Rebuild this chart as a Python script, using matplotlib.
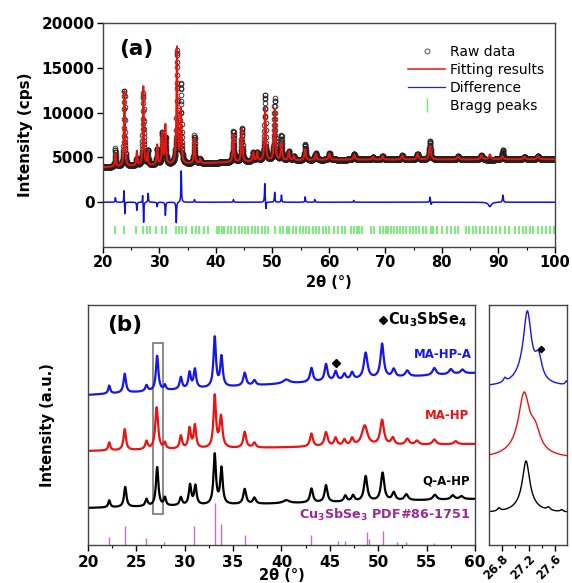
import numpy as np
import matplotlib.pyplot as plt
from matplotlib.lines import Line2D

plt.rcParams['font.family'] = ['DejaVu Sans']
plt.rcParams['axes.linewidth'] = 1.0
plt.rcParams['axes.edgecolor'] = '#444444'

# ---- (a) Rietveld refinement ----
bg_a_x = [20, 30, 40, 50, 60, 100]
bg_a_y = [3900, 4150, 4400, 4600, 4750, 4800]

fit_pos = [22.2, 23.8, 26.0, 27.15, 27.9, 29.6, 30.5, 31.05, 33.1, 33.8, 36.2, 37.2,
           43.1, 44.6, 46.6, 47.3, 48.7, 50.4, 51.6, 52.9, 53.8, 55.8, 57.7, 60.1,
           64.5, 67.8, 69.5, 73.0, 75.7, 77.9, 82.9, 87.0, 88.5, 90.7, 94.6, 97.0]
fit_amp = [1500, 8400, 1600, 8900, 1300, 2200, 3500, 4400, 13000, 6000, 2800, 500,
           3100, 3700, 1000, 1000, 5800, 5800, 2000, 1000, 500, 1200, 700, 700,
           550, 300, 400, 450, 650, 1500, 350, 450, 550, 350, 300, 350]
fit_fwhm = [0.18, 0.2, 0.2, 0.2, 0.18, 0.2, 0.22, 0.22, 0.22, 0.22, 0.22, 0.22,
            0.24, 0.24, 0.24, 0.24, 0.26, 0.26, 0.26, 0.26, 0.26, 0.28, 0.28, 0.28,
            0.3, 0.3, 0.3, 0.32, 0.32, 0.34, 0.36, 0.36, 0.36, 0.36, 0.38, 0.38]

diff_pos = [22.2, 23.72, 23.88, 26.0, 27.02, 27.2, 28.0, 29.6, 31.05, 32.98, 33.85,
            36.2, 43.1, 48.65, 48.85, 50.4, 51.6, 55.8, 57.5, 64.4, 77.9, 78.1, 88.5, 90.8]
diff_amp = [500, 1400, -1400, -900, 900, -2300, 1000, -500, -1500, -2300, 3600,
            300, 300, 2200, -900, 1100, 800, 600, 300, 200, 600, -300, -500, 800]
diff_fwhm = [0.12, 0.1, 0.1, 0.12, 0.1, 0.1, 0.12, 0.12, 0.12, 0.12, 0.12,
             0.12, 0.12, 0.12, 0.12, 0.12, 0.12, 0.12, 0.12, 0.12, 0.14, 0.14, 0.6, 0.16]

bragg_pos = [22.2, 23.8, 25.85, 27.1, 27.8, 28.3, 29.35, 30.5, 31.1, 33.0, 33.55, 34.0,
             34.7, 35.7, 36.4, 37.0, 37.8, 38.6, 40.2, 40.6, 41.05, 41.5, 42.1, 42.7,
             43.3, 44.0, 44.6, 45.15, 45.7, 46.3, 46.9, 47.5, 48.1, 48.65, 49.2, 50.4,
             51.3, 51.9, 52.5, 53.0, 53.6, 54.2, 54.8, 55.4, 56.0, 56.5, 57.1, 57.7,
             58.3, 58.9, 59.5, 60.1, 60.9, 61.6, 62.3, 62.9, 64.0, 64.5, 65.0, 65.4,
             65.9, 67.4, 68.0, 69.1, 69.5, 70.1, 70.5, 71.0, 71.5, 72.1, 72.6, 73.2,
             73.7, 74.3, 74.9, 75.4, 75.9, 76.7, 77.2, 78.0, 78.5, 79.2, 80.0, 80.9,
             81.6, 82.3, 82.9, 84.3, 84.8, 85.5, 86.1, 86.8, 87.4, 88.2, 88.9, 89.6,
             90.3, 91.1, 91.9, 93.0, 93.6, 94.3, 94.9, 95.6, 96.2, 97.0, 97.7, 98.4,
             99.1, 99.9]

# ---- (b) XRD patterns, stacked ----
qahp_base = [37, 46]
qahp_pos = [22.2, 23.85, 26.05, 27.15, 27.95, 29.6, 30.55, 31.1, 33.1, 33.8, 36.2, 37.2,
            40.5, 43.1, 44.6, 46.6, 47.4, 48.7, 50.45, 51.6, 52.9, 55.85, 57.7, 58.6]
qahp_amp = [7, 20, 7, 39, 8, 8, 20, 19, 50, 36, 15, 6,
            3, 14, 17, 6, 6, 25, 28, 8, 6, 5, 4, 3]
qahp_fwhm = [0.25, 0.3, 0.3, 0.3, 0.25, 0.3, 0.3, 0.3, 0.3, 0.3, 0.35, 0.35,
             0.8, 0.35, 0.35, 0.35, 0.35, 0.4, 0.4, 0.4, 0.45, 0.45, 0.45, 0.45]

mahp_base = [94, 101]
mahp_pos = [22.2, 23.8, 26.05, 27.1, 27.95, 29.6, 30.5, 31.05, 33.1, 33.75, 36.2, 37.2,
            43.1, 44.6, 45.6, 46.5, 47.3, 48.6, 50.4, 51.5, 53.0, 54.0, 55.8, 58.0]
mahp_amp = [8, 21, 8, 42, 6, 13, 20, 23, 52, 31, 16, 5,
            13, 14, 8, 6, 7, 20, 25, 7, 6, 4, 5, 3]
mahp_fwhm = [0.25, 0.3, 0.3, 0.35, 0.25, 0.3, 0.3, 0.3, 0.3, 0.35, 0.35, 0.35,
             0.35, 0.4, 0.35, 0.35, 0.35, 0.7, 0.45, 0.4, 0.45, 0.45, 0.45, 0.45]

mahpa_base = [150, 172]
mahpa_pos = [22.2, 23.8, 26.05, 27.15, 27.95, 29.6, 30.5, 31.05, 33.1, 33.8, 36.2, 37.2,
             40.5, 43.1, 44.6, 45.6, 46.5, 47.3, 48.7, 50.4, 51.6, 53.0, 55.8, 57.5, 58.7]
mahpa_amp = [8, 19, 6, 35, 5, 12, 16, 19, 50, 30, 13, 5,
             4, 14, 17, 9, 6, 7, 26, 34, 8, 6, 7, 5, 4]
mahpa_fwhm = [0.25, 0.3, 0.3, 0.3, 0.25, 0.3, 0.3, 0.3, 0.3, 0.3, 0.35, 0.35,
              0.8, 0.35, 0.35, 0.35, 0.35, 0.35, 0.45, 0.4, 0.4, 0.45, 0.45, 0.45, 0.45]

# Cu3SbSe3 reference pattern (PDF#86-1751)
ref_pos = [22.2, 23.8, 26.0, 27.9, 31.0, 33.1, 33.8, 36.2, 43.1, 45.8, 46.6, 48.8,
           49.0, 50.5, 51.9, 52.9, 55.8]
ref_int = [8, 19, 7, 3, 19, 42, 21, 10, 10, 4, 4, 13, 6, 14, 3, 3, 2]

# ---- (b) close-up of the 27.2 deg reflection ----
zoom_qahp_base = 32
zoom_qahp_pos = [26.75, 27.16, 27.16, 27.5, 27.7]
zoom_qahp_amp = [3, 44, 8, 3, 2]
zoom_qahp_fwhm = [0.05, 0.13, 0.35, 0.06, 0.05]

zoom_mahp_base = 86
zoom_mahp_pos = [27.13, 27.3, 27.13]
zoom_mahp_amp = [55, 18, 8]
zoom_mahp_fwhm = [0.2, 0.18, 0.6]

zoom_mahpa_base = 158
zoom_mahpa_pos = [26.84, 27.18, 27.35, 27.15, 27.77]
zoom_mahpa_amp = [4, 62, 22, 12, 4]
zoom_mahpa_fwhm = [0.05, 0.14, 0.12, 0.35, 0.04]


def peaks(x, pos, amp, fwhm):
    pos = np.asarray(pos)[:, None]
    amp = np.asarray(amp)[:, None]
    hw = np.asarray(fwhm)[:, None] / 2
    return (amp / (1 + ((x[None, :] - pos) / hw) ** 2)).sum(axis=0)


fig = plt.figure(figsize=(5.72, 5.83), dpi=100)
ax_a = fig.add_axes([0.180, 0.5763, 0.790, 0.3842])
ax_b = fig.add_axes([0.1538, 0.0652, 0.6766, 0.4117])
ax_z = fig.add_axes([0.8549, 0.0652, 0.1364, 0.4117])

# panel (a)
tt = np.arange(20, 100.001, 0.02)
fit = np.interp(tt, bg_a_x, bg_a_y) + peaks(tt, fit_pos, fit_amp, fit_fwhm)
diff = peaks(tt, diff_pos, diff_amp, diff_fwhm)
raw = fit + diff

ax_a.plot(tt, raw, 'o', mfc='none', mec='#222222', ms=3.4, mew=0.6, zorder=2)
ax_a.plot(tt, fit, color='#e8150f', lw=1.4, zorder=3)
ax_a.plot(tt, diff, color='#1010e0', lw=1.1, zorder=3)
ax_a.plot(bragg_pos, np.full(len(bragg_pos), -3050), '|', color='#55ea55',
          ms=6, mew=1.1, zorder=2)

ax_a.set_xlim(20, 100)
ax_a.set_ylim(-5000, 20000)
ax_a.set_xticks(np.arange(20, 101, 10))
ax_a.set_xticks(np.arange(25, 100, 10), minor=True)
ax_a.set_yticks([0, 5000, 10000, 15000, 20000])
ax_a.set_xlabel('2θ (°)', fontsize=10.5, fontweight='bold', labelpad=3)
ax_a.set_ylabel('Intensity (cps)', fontsize=11, fontweight='bold', labelpad=6)
ax_a.text(0.035, 0.885, '(a)', transform=ax_a.transAxes, fontsize=15.5,
          fontweight='bold', va='center')

handles = [
    Line2D([], [], ls='none', marker='o', mfc='none', mec='#666666', ms=3.5, mew=0.8),
    Line2D([], [], color='#e8150f', lw=1.1),
    Line2D([], [], color='#2020e0', lw=0.9),
    Line2D([], [], ls='none', marker='|', color='#66ee66', ms=10, mew=1.0),
]
ax_a.legend(handles, ['Raw data', 'Fitting results', 'Difference', 'Bragg peaks'],
            loc='upper right', bbox_to_anchor=(0.995, 0.94), frameon=False,
            fontsize=10, handlelength=2.6, handletextpad=0.4, labelspacing=0.3,
            borderaxespad=0.2)

# panel (b)
xb = np.arange(20, 60.001, 0.02)
patterns = [
    (qahp_base, qahp_pos, qahp_amp, qahp_fwhm, 'black'),
    (mahp_base, mahp_pos, mahp_amp, mahp_fwhm, '#ee1111'),
    (mahpa_base, mahpa_pos, mahpa_amp, mahpa_fwhm, '#1515ee'),
]
for base, pos, amp, fwhm, col in patterns:
    y = np.interp(xb, [20, 60], base) + peaks(xb, pos, amp, fwhm)
    ax_b.plot(xb, y, color=col, lw=1.6)

ax_b.vlines(ref_pos, 0, ref_int, color='#c070c0', lw=1.0)

ax_b.add_patch(plt.Rectangle((26.7, 31), 1.05, 171, fill=False,
                             edgecolor='#777777', lw=1.2))

ax_b.text(23.8, 220, '(b)', fontsize=15.5, fontweight='bold', ha='center', va='center')
ax_b.plot([50.5], [225], 'D', color='black', ms=3.8)
ax_b.text(51.0, 225, r'$\mathbf{Cu_3SbSe_4}$', fontsize=10.5, va='center')
ax_b.plot([45.6], [182], 'D', color='black', ms=4.2)
ax_b.text(59.7, 190, 'MA-HP-A', color='#1515ee', fontsize=8.5,
          fontweight='bold', ha='right', va='center')
ax_b.text(59.4, 129, 'MA-HP', color='#ee1111', fontsize=8.5,
          fontweight='bold', ha='right', va='center')
ax_b.text(59.5, 64, 'Q-A-HP', color='black', fontsize=8.5,
          fontweight='bold', ha='right', va='center')
ax_b.text(59.5, 30, r'$\mathbf{Cu_3SbSe_3}$ PDF#86-1751', color='#9a2a9a',
          fontsize=9.2, fontweight='bold', ha='right', va='center')

ax_b.set_xlim(20, 60)
ax_b.set_ylim(0, 240)
ax_b.set_xticks(np.arange(20, 61, 5))
ax_b.set_xticks(np.arange(22.5, 60, 5), minor=True)
ax_b.set_yticks([])
ax_b.set_xlabel('2θ (°)', fontsize=10.5, fontweight='bold', labelpad=-1)
ax_b.set_ylabel('Intensity (a.u.)', fontsize=10.5, fontweight='bold', labelpad=24)

# close-up panel
xz = np.arange(26.6, 27.8, 0.004)
zoom_sets = [
    (zoom_qahp_base, zoom_qahp_pos, zoom_qahp_amp, zoom_qahp_fwhm, 'black'),
    (zoom_mahp_base, zoom_mahp_pos, zoom_mahp_amp, zoom_mahp_fwhm, '#ee1111'),
    (zoom_mahpa_base, zoom_mahpa_pos, zoom_mahpa_amp, zoom_mahpa_fwhm, '#1515ee'),
]
for base, pos, amp, fwhm, col in zoom_sets:
    ax_z.plot(xz, base + peaks(xz, pos, amp, fwhm), color=col, lw=1.0)
ax_z.plot([27.38], [196], 'D', color='black', ms=3.2)

ax_z.set_xlim(26.6, 27.78)
ax_z.set_ylim(0, 240)
ax_z.set_xticks([26.8, 27.2, 27.6])
ax_z.set_xticks([27.0, 27.4], minor=True)
ax_z.set_yticks([])
ax_z.tick_params(axis='x', labelrotation=45)

for ax in (ax_a, ax_b, ax_z):
    ax.tick_params(which='major', direction='out', length=4, width=1.0,
                   labelsize=11, pad=2)
    ax.tick_params(which='minor', direction='out', length=2.5, width=0.8)
    for lab in ax.get_xticklabels() + ax.get_yticklabels():
        lab.set_fontweight('bold')
ax_a.tick_params(axis='x', labelsize=10.5)
ax_b.tick_params(axis='x', labelsize=11, pad=3)
ax_z.tick_params(axis='x', labelsize=8.5, pad=1)
for lab in ax_z.get_xticklabels():
    lab.set_ha('right')
    lab.set_rotation_mode('anchor')

fig.savefig('out.png', dpi=100)
